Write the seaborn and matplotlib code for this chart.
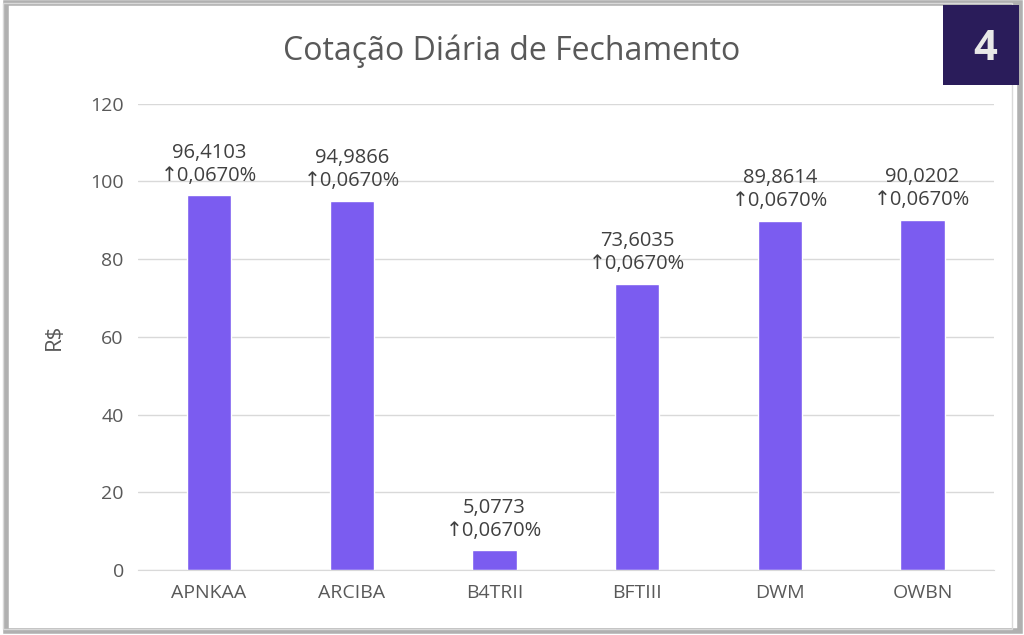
import matplotlib
matplotlib.use("Agg")
import matplotlib.pyplot as plt
import seaborn as sns
import pandas as pd
from matplotlib.patches import Rectangle

ativos = ["APNKAA", "ARCIBA", "B4TRII", "BFTIII", "DWM", "OWBN"]
valores = [96.4103, 94.9866, 5.0773, 73.6035, 89.8614, 90.0202]
variacao = ["0,0670%"] * 6

df = pd.DataFrame({"ativo": ativos, "valor": valores})

sns.set_style("white")
plt.rcParams['font.family'] = ['Open Sans', 'DejaVu Sans']

fig = plt.figure(figsize=(10.24, 6.35), dpi=100)
ax = fig.add_axes([0.1345, 0.102, 0.836, 0.735])

# moldura com sombra
fig.patches.append(Rectangle((0.006, 0.006), 0.99, 0.99, transform=fig.transFigure,
                             fill=False, edgecolor="#b0b0b0", lw=4, zorder=-1))
fig.patches.append(Rectangle((0.003, 0.01), 0.985, 0.985, transform=fig.transFigure,
                             fill=False, edgecolor="#d9d9d9", lw=1, zorder=-1))

sns.barplot(data=df, x="ativo", y="valor", color="#7B5CF0", saturation=1,
            width=0.31, ax=ax)

for i, (v, p) in enumerate(zip(valores, variacao)):
    txt = f"{v:.4f}".replace(".", ",") + "\n\u2191" + p
    ax.text(i, v + 2.5, txt, ha="center", va="bottom", fontsize=14.5,
            color="#404040", linespacing=1.2)

ax.set_ylim(0, 120)
ax.set_yticks(range(0, 121, 20))
ax.yaxis.grid(True, color="#d9d9d9", lw=1)
ax.set_axisbelow(True)
for s in ["top", "right", "left"]:
    ax.spines[s].set_visible(False)
ax.spines["bottom"].set_color("#d9d9d9")
ax.tick_params(axis="both", labelsize=14, colors="#595959", length=0, pad=10)
ax.set_xlabel("")
ax.set_ylabel("R$", fontsize=16, color="#595959", labelpad=18)

fig.text(0.5, 0.92, "Cotação Diária de Fechamento", ha="center", va="center",
         fontsize=23, color="#595959")

# logo
lax = fig.add_axes([0.921, 0.866, 0.074, 0.126])
lax.set_facecolor("#2a1c5a")
lax.set_xticks([]); lax.set_yticks([])
for s in lax.spines.values():
    s.set_visible(False)
lax.text(0.55, 0.45, "4", color="#e8e8e8", fontsize=30, fontweight="bold",
         ha="center", va="center", transform=lax.transAxes)

fig.savefig("out.png", dpi=100)
